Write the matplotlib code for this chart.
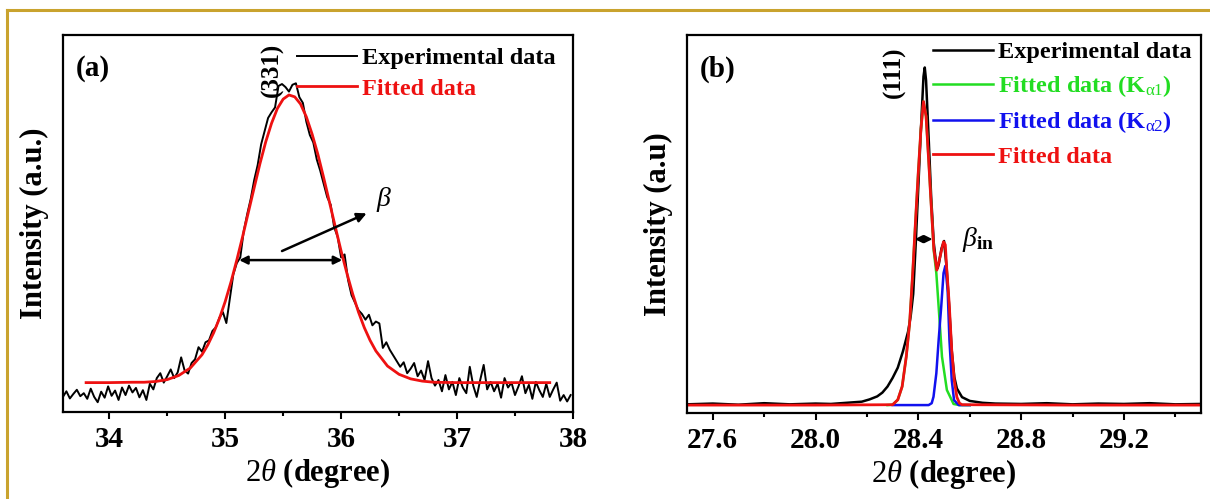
import numpy as np
import matplotlib
matplotlib.use("Agg")
import matplotlib.pyplot as plt
from matplotlib.lines import Line2D

plt.rcParams['font.family'] = ['Liberation Serif', 'DejaVu Serif']
plt.rcParams['font.weight'] = 'bold'
plt.rcParams['axes.labelweight'] = 'bold'
plt.rcParams['mathtext.fontset'] = 'custom'
plt.rcParams['mathtext.rm'] = 'Liberation Serif:weight=normal'
plt.rcParams['mathtext.it'] = 'Liberation Serif:style=italic:weight=normal'
plt.rcParams['mathtext.bf'] = 'Liberation Serif:weight=bold'

# ---- panel (a): (331) peak, scan starts at 33.60 with 0.03 deg step ----
a_start, a_step = 33.60, 0.03
a_exp = [4.0, 5.5, 3.6, 4.8, 5.9, 4.2, 5.0, 3.5, 6.2, 4.0, 2.6, 5.4, 3.8, 6.8, 4.3, 5.7,
         3.2, 6.5, 4.5, 7.0, 5.2, 6.4, 3.9, 5.8,
         3.2, 7.5, 6.0, 9.0, 10.3, 7.8, 9.5, 11.3, 9.0, 10.5, 14.5, 11.0, 10.2, 13.0, 14.0,
         17.2, 16.0, 18.5, 19.0, 21.5, 22.5, 25.0, 26.5, 23.6, 30.0, 36.5, 39.5, 41.0, 48.0,
         52.5, 56.5, 61.5, 65.5, 71.0, 74.5, 78.0, 79.5, 80.8, 86.5, 87.0, 86.2, 85.0, 86.8,
         87.2, 83.5, 82.0, 77.0, 73.5, 71.5, 67.0, 64.0, 60.5, 57.0, 55.0, 49.0, 46.5, 41.0,
         41.8, 35.0, 31.0, 29.0, 27.0, 26.0, 24.5, 25.8, 23.0, 24.0, 23.5, 17.0, 18.5, 16.5,
         15.0, 13.5, 12.0, 13.2, 10.3, 11.5, 13.0, 9.5, 11.0, 8.5, 13.5, 9.0, 7.0, 8.5, 5.5,
         9.8, 6.0, 8.0, 4.5, 9.0, 6.5, 5.0, 12.0, 7.0, 4.0, 8.5, 12.5, 6.0, 8.0, 5.5, 7.5,
         3.8, 9.0, 6.5, 7.8, 4.5, 6.8, 9.5, 5.0, 7.2, 3.5, 8.0, 5.8, 4.0, 7.5, 4.0, 6.0, 7.8,
         3.0, 4.5, 2.8, 4.5]
a_fit_x = [33.8, 34.0, 34.2, 34.3, 34.4, 34.5, 34.6, 34.7, 34.8, 34.85, 34.9, 34.95, 35.0,
           35.05, 35.1, 35.15, 35.2, 35.25, 35.3, 35.35, 35.4, 35.45, 35.5, 35.55, 35.6,
           35.65, 35.7, 35.75, 35.8, 35.85, 35.9, 35.95, 36.0, 36.05, 36.1, 36.15, 36.2,
           36.25, 36.3, 36.4, 36.5, 36.6, 36.7, 36.8, 37.0, 37.4, 37.8]
a_fit_y = [7.8, 7.8, 7.9, 7.9, 8.1, 8.6, 9.7, 11.7, 15.2, 17.8, 21.0, 24.8, 29.3,
           34.5, 40.3, 46.5, 53.0, 59.5, 65.9, 71.7, 76.6, 80.5, 83.0, 84.1, 83.6,
           81.7, 78.3, 73.7, 68.3, 62.1, 55.6, 49.1, 42.7, 36.8, 31.3, 26.5, 22.4,
           19.0, 16.2, 12.2, 10.0, 8.8, 8.2, 7.9, 7.8, 7.8, 7.8]
a_xticks = [34, 35, 36, 37, 38]

# ---- panel (b): (111) peak with K-alpha doublet ----
b_exp_x = [27.50, 27.60, 27.70, 27.80, 27.90, 28.00, 28.06, 28.10, 28.14, 28.18, 28.21,
           28.24, 28.26, 28.28, 28.30, 28.32, 28.34, 28.36, 28.37, 28.38, 28.39, 28.40,
           28.41, 28.42, 28.425, 28.43, 28.44, 28.45, 28.46, 28.47, 28.475, 28.48, 28.49,
           28.50, 28.51, 28.52, 28.53, 28.54, 28.55, 28.57, 28.60, 28.65, 28.70, 28.80,
           28.90, 29.00, 29.10, 29.20, 29.30, 29.40, 29.50]
b_exp_y = [2.3, 2.5, 2.2, 2.6, 2.3, 2.5, 2.4, 2.6, 2.8, 3.0, 3.6,
           4.4, 5.4, 7.0, 9.3, 12.0, 16.3, 21.5, 25.5, 31.5, 45.0, 60.0,
           75.0, 89.0, 91.4, 88.0, 73.0, 57.0, 45.0, 39.0, 38.3, 39.5, 43.5,
           45.5, 38.5, 28.0, 16.5, 9.5, 6.5, 4.2, 3.2, 2.7, 2.5, 2.4,
           2.6, 2.3, 2.5, 2.4, 2.6, 2.3, 2.4]
b_ka1_x = [28.28, 28.30, 28.32, 28.337, 28.353, 28.366, 28.378, 28.39, 28.40, 28.41, 28.42,
           28.43, 28.44, 28.45, 28.46, 28.47, 28.479, 28.492, 28.511, 28.537, 28.56, 28.60]
b_ka1_y = [2.1, 2.2, 3.5, 7.0, 14.9, 23.7, 37.0, 52.0, 64.0, 75.0, 82.4,
           78.5, 67.0, 55.0, 43.0, 37.0, 28.1, 14.9, 6.1, 2.4, 2.1, 2.1]
b_ka2_x = [28.30, 28.44, 28.452, 28.459, 28.470, 28.479, 28.489, 28.498, 28.505, 28.514,
           28.521, 28.53, 28.539, 28.557, 28.60]
b_ka2_y = [2.1, 2.1, 2.6, 4.3, 10.5, 19.3, 28.1, 37.0, 38.9, 32.5,
           19.3, 8.7, 3.4, 2.1, 2.1]
b_fit_x = [27.50, 28.00, 28.30, 28.32, 28.337, 28.353, 28.366, 28.378, 28.39, 28.40, 28.41,
           28.42, 28.43, 28.44, 28.45, 28.46, 28.472, 28.485, 28.498, 28.505, 28.51, 28.52,
           28.53, 28.54, 28.55, 28.56, 28.57, 29.00, 29.50]
b_fit_y = [2.1, 2.1, 2.2, 3.5, 7.0, 14.9, 23.7, 37.0, 52.0, 64.0, 75.0,
           82.4, 78.5, 67.0, 55.0, 43.5, 37.8, 41.5, 45.3, 44.5, 38.5, 29.0,
           16.5, 8.5, 4.2, 2.6, 2.2, 2.1, 2.1]
b_xticks = [27.6, 28.0, 28.4, 28.8, 29.2]

RED = '#ee1111'
GREEN = '#22dd22'
BLUE = '#1111ee'

fig = plt.figure(figsize=(12.1, 4.99), dpi=100)
ax1 = fig.add_axes([0.052, 0.1743, 0.4215, 0.7555])
ax2 = fig.add_axes([0.5678, 0.1723, 0.4248, 0.7576])

a_x = a_start + a_step * np.arange(len(a_exp))
ax1.plot(a_x, a_exp, color='black', lw=1.4, label='Experimental data')
ax1.plot(a_fit_x, a_fit_y, color=RED, lw=2.0, label='Fitted data')

ax2.plot(b_exp_x, b_exp_y, color='black', lw=1.8, label='Experimental data')
ax2.plot(b_ka1_x, b_ka1_y, color=GREEN, lw=1.8, label=r'Fitted data (K$_{\mathrm{\alpha1}}$)')
ax2.plot(b_ka2_x, b_ka2_y, color=BLUE, lw=1.8, label=r'Fitted data (K$_{\mathrm{\alpha2}}$)')
ax2.plot(b_fit_x, b_fit_y, color=RED, lw=2.0, label='Fitted data')

for ax, ticks, minor, lims in ((ax1, a_xticks, 0.5, (33.6, 38.0)),
                               (ax2, b_xticks, 0.2, (27.5, 29.5))):
    ax.set_xticks(ticks)
    ax.set_xticks(np.arange(ticks[0] - minor, ticks[-1] + 2 * minor, 2 * minor), minor=True)
    ax.set_xlim(*lims)
    ax.set_ylim(0, 100)
    ax.set_yticks([])
    ax.tick_params(axis='x', which='major', direction='out', length=5, width=1.5,
                   labelsize=21, pad=5)
    ax.tick_params(axis='x', which='minor', direction='out', length=3, width=1.5)
    for s in ax.spines.values():
        s.set_linewidth(1.6)
    ax.set_xlabel(r'$2\theta$ (degree)', fontsize=22, labelpad=2)

ax2.set_xticklabels(['27.6', '28.0', '28.4', '28.8', '29.2'])
ax1.set_ylabel('Intensity (a.u.)', fontsize=22, labelpad=10)
ax2.set_ylabel('Intensity (a.u)', fontsize=22, labelpad=10)

leg1 = ax1.legend(loc='upper right', bbox_to_anchor=(1 - 5 / 510, 1.0), frameon=False,
                  fontsize=17.5, handlelength=2.5, handletextpad=0.2, labelspacing=0.36,
                  borderaxespad=0.1, labelcolor='linecolor')
leg2 = ax2.legend(loc='upper right', bbox_to_anchor=(1 - 3 / 514, 1.0), frameon=False,
                  fontsize=17.5, handlelength=2.5, handletextpad=0.2, labelspacing=0.42,
                  borderaxespad=-0.15, labelcolor='linecolor')

ax1.text(0.025, 0.91, '(a)', transform=ax1.transAxes, fontsize=21, va='center')
ax2.text(0.025, 0.91, '(b)', transform=ax2.transAxes, fontsize=21, va='center')
ax1.text(35.41, 90.7, '(331)', rotation=90, fontsize=18, ha='center', va='center')
ax2.text(28.307, 90.2, '(111)', rotation=90, fontsize=18, ha='center', va='center')

# FWHM markers
ax1.annotate('', xy=(35.12, 40.3), xytext=(36.01, 40.3),
             arrowprops=dict(arrowstyle='<|-|>', color='black', lw=1.8, mutation_scale=12,
                             shrinkA=0, shrinkB=0))
ax1.annotate('', xy=(36.22, 52.7), xytext=(35.49, 42.7),
             arrowprops=dict(arrowstyle='-|>', color='black', lw=1.8, mutation_scale=14,
                             shrinkA=0, shrinkB=0))
ax1.text(36.37, 56.5, r'$\beta$', fontsize=20, ha='center', va='center')

ax2.annotate('', xy=(28.386, 46), xytext=(28.455, 46),
             arrowprops=dict(arrowstyle='<|-|>', color='black', lw=1.5, mutation_scale=11,
                             shrinkA=0, shrinkB=0))
ax2.text(28.57, 46, r'$\beta_{\mathbf{in}}$', fontsize=20, ha='left', va='center')

# gold frame round the figure
gold = '#c9a32e'
fig.add_artist(Line2D([7 / 1210, 1.0], [1 - 10 / 499, 1 - 10 / 499],
                      transform=fig.transFigure, color=gold, lw=2.2))
fig.add_artist(Line2D([7 / 1210, 7 / 1210], [0.0, 1 - 10 / 499],
                      transform=fig.transFigure, color=gold, lw=2.2))

fig.savefig('out.png', dpi=100)
